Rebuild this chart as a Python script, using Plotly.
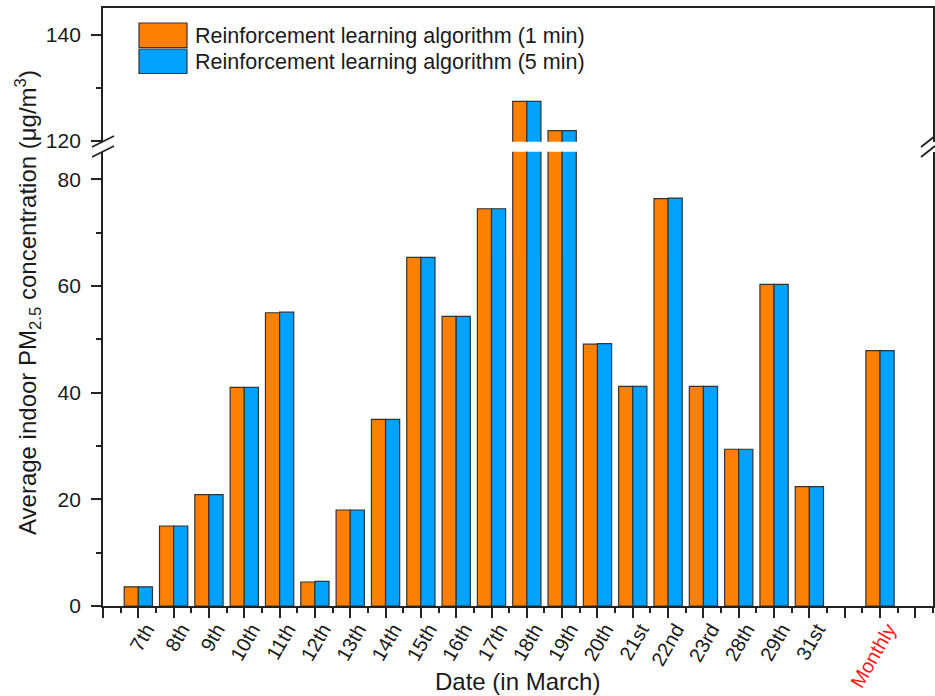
import plotly.graph_objects as go

# Daily average indoor PM2.5 under the two control intervals
dates = ["7th", "8th", "9th", "10th", "11th", "12th", "13th", "14th", "15th", "16th",
         "17th", "18th", "19th", "20th", "21st", "22nd", "23rd", "28th", "29th", "31st"]
rl_1min = [3.6, 15.0, 20.9, 41.0, 55.0, 4.5, 18.0, 35.0, 65.4, 54.3,
           74.5, 127.4, 121.9, 49.1, 41.2, 76.4, 41.2, 29.4, 60.3, 22.4]
rl_5min = [3.6, 15.0, 20.9, 41.0, 55.1, 4.6, 18.0, 35.0, 65.4, 54.3,
           74.5, 127.4, 121.9, 49.2, 41.2, 76.5, 41.2, 29.4, 60.3, 22.4]
monthly_label = "Monthly"
monthly_1min = 47.9
monthly_5min = 47.9

series_names = ["Reinforcement learning algorithm (1 min)",
                "Reinforcement learning algorithm (5 min)"]
colors = ["#FF8000", "#00A2FF"]

# x positions: days at 1..N, one empty slot, then the monthly mean
positions = list(range(1, len(dates) + 1)) + [len(dates) + 2]
labels = dates + [monthly_label]
values = [rl_1min + [monthly_1min], rl_5min + [monthly_5min]]
x_max = len(dates) + 3.5

W, H = 935, 696
ML, MR, MT, MB = 103, 2, 8, 90
PW, PH = W - ML - MR, H - MT - MB
BOTTOM_PX = H - MB


def px(x):
    return (x - ML) / PW


def py(y):
    return (BOTTOM_PX - y) / PH


low_dom = [0, py(151.7)]
up_dom = [py(141.7), 1]
low_range = [0, 85.2]
up_range = [119.8, 145.0]

FONT = "Arial, Liberation Sans, sans-serif"
AX = "#222222"
TXT = "#1a1a1a"

fig = go.Figure()
for yax in ["y", "y2"]:
    for name, vals, col in zip(series_names, values, colors):
        fig.add_trace(go.Bar(
            x=positions, y=vals, name=name, xaxis="x" if yax == "y" else "x2", yaxis=yax,
            marker=dict(color=col, line=dict(color="#333333", width=1.2)),
            showlegend=False,
        ))

tickvals = list(range(0, len(dates) + 4))
ticktext = []
for t in tickvals:
    if t in positions:
        lab = labels[positions.index(t)]
        if lab == monthly_label:
            lab = '<span style="color:#FF1A1A">' + lab + '</span>'
        ticktext.append(lab)
    else:
        ticktext.append("")

fig.update_layout(
    width=W, height=H,
    margin=dict(l=ML, r=MR, t=MT, b=MB, autoexpand=False),
    paper_bgcolor="white", plot_bgcolor="white",
    barmode="group", bargap=0.2, bargroupgap=0,
    font=dict(family=FONT, size=21, color=TXT),
    xaxis=dict(
        domain=[0, 1], range=[0, x_max], anchor="y", automargin=False,
        tickvals=tickvals, ticktext=ticktext, tickangle=-60,
        ticks="outside", ticklen=10, tickwidth=1.5, tickcolor=AX,
        minor=dict(ticks="outside", ticklen=5, tickwidth=1.5, tickcolor=AX,
                   tick0=0.5, dtick=1),
        showline=True, linecolor=AX, linewidth=1.8, mirror=False,
        showgrid=False, zeroline=False,
        tickfont=dict(size=20), ticklabelshift=8, ticklabelstandoff=-8,
    ),
    xaxis2=dict(
        domain=[0, 1], range=[0, x_max], anchor="y2", side="top", automargin=False,
        showticklabels=False, ticks="", showline=True, linecolor=AX, linewidth=1.8,
        showgrid=False, zeroline=False,
    ),
    yaxis=dict(
        domain=low_dom, range=low_range, anchor="x", automargin=False,
        tick0=0, dtick=20, ticks="outside", ticklen=10, tickwidth=1.5, tickcolor=AX,
        minor=dict(ticks="outside", ticklen=5, tickwidth=1.5, tickcolor=AX, dtick=10),
        showline=True, linecolor=AX, linewidth=1.8, mirror=True,
        showgrid=False, zeroline=False, ticklabelstandoff=6,
    ),
    yaxis2=dict(
        domain=up_dom, range=up_range, anchor="x2", automargin=False,
        tickvals=[120, 140], ticks="outside", ticklen=10, tickwidth=1.5, tickcolor=AX,
        minor=dict(ticks="outside", ticklen=5, tickwidth=1.5, tickcolor=AX,
                   tickvals=[130]),
        showline=True, linecolor=AX, linewidth=1.8, mirror=True,
        showgrid=False, zeroline=False, ticklabelstandoff=6,
    ),
)

shapes = []
# axis break marks on both vertical axes
for x0, x1 in [(92, 114), (921, 935)]:
    for y0, y1 in [(147, 136), (157, 146)]:
        shapes.append(dict(type="line", xref="paper", yref="paper",
                           x0=px(x0), x1=px(x1), y0=py(y0), y1=py(y1),
                           line=dict(color=AX, width=1.8)))

# legend swatches
for i, col in enumerate(colors):
    top = 23 + i * 26
    shapes.append(dict(type="rect", xref="paper", yref="paper",
                       x0=px(139), x1=px(187), y0=py(top + 24.5), y1=py(top),
                       fillcolor=col, line=dict(color="#333333", width=1.2)))
fig.update_layout(shapes=shapes)

annotations = []
for i, name in enumerate(series_names):
    annotations.append(dict(
        text=name, xref="paper", yref="paper", x=px(193), y=py(36 + i * 26),
        xanchor="left", yanchor="middle", showarrow=False,
        font=dict(size=21.5, family=FONT, color=TXT),
    ))
annotations.append(dict(
    text="Average indoor PM<sub>2.5</sub> concentration (μg/m<sup>3</sup>)",
    xref="paper", yref="paper", x=px(28), y=py(303),
    xanchor="center", yanchor="middle", textangle=-90, showarrow=False,
    font=dict(size=24, family=FONT, color=TXT),
))
annotations.append(dict(
    text="Date (in March)", xref="paper", yref="paper", x=px(517), y=py(681),
    xanchor="center", yanchor="middle", showarrow=False,
    font=dict(size=24, family=FONT, color=TXT),
))
fig.update_layout(annotations=annotations)

fig.write_html("out.html")
